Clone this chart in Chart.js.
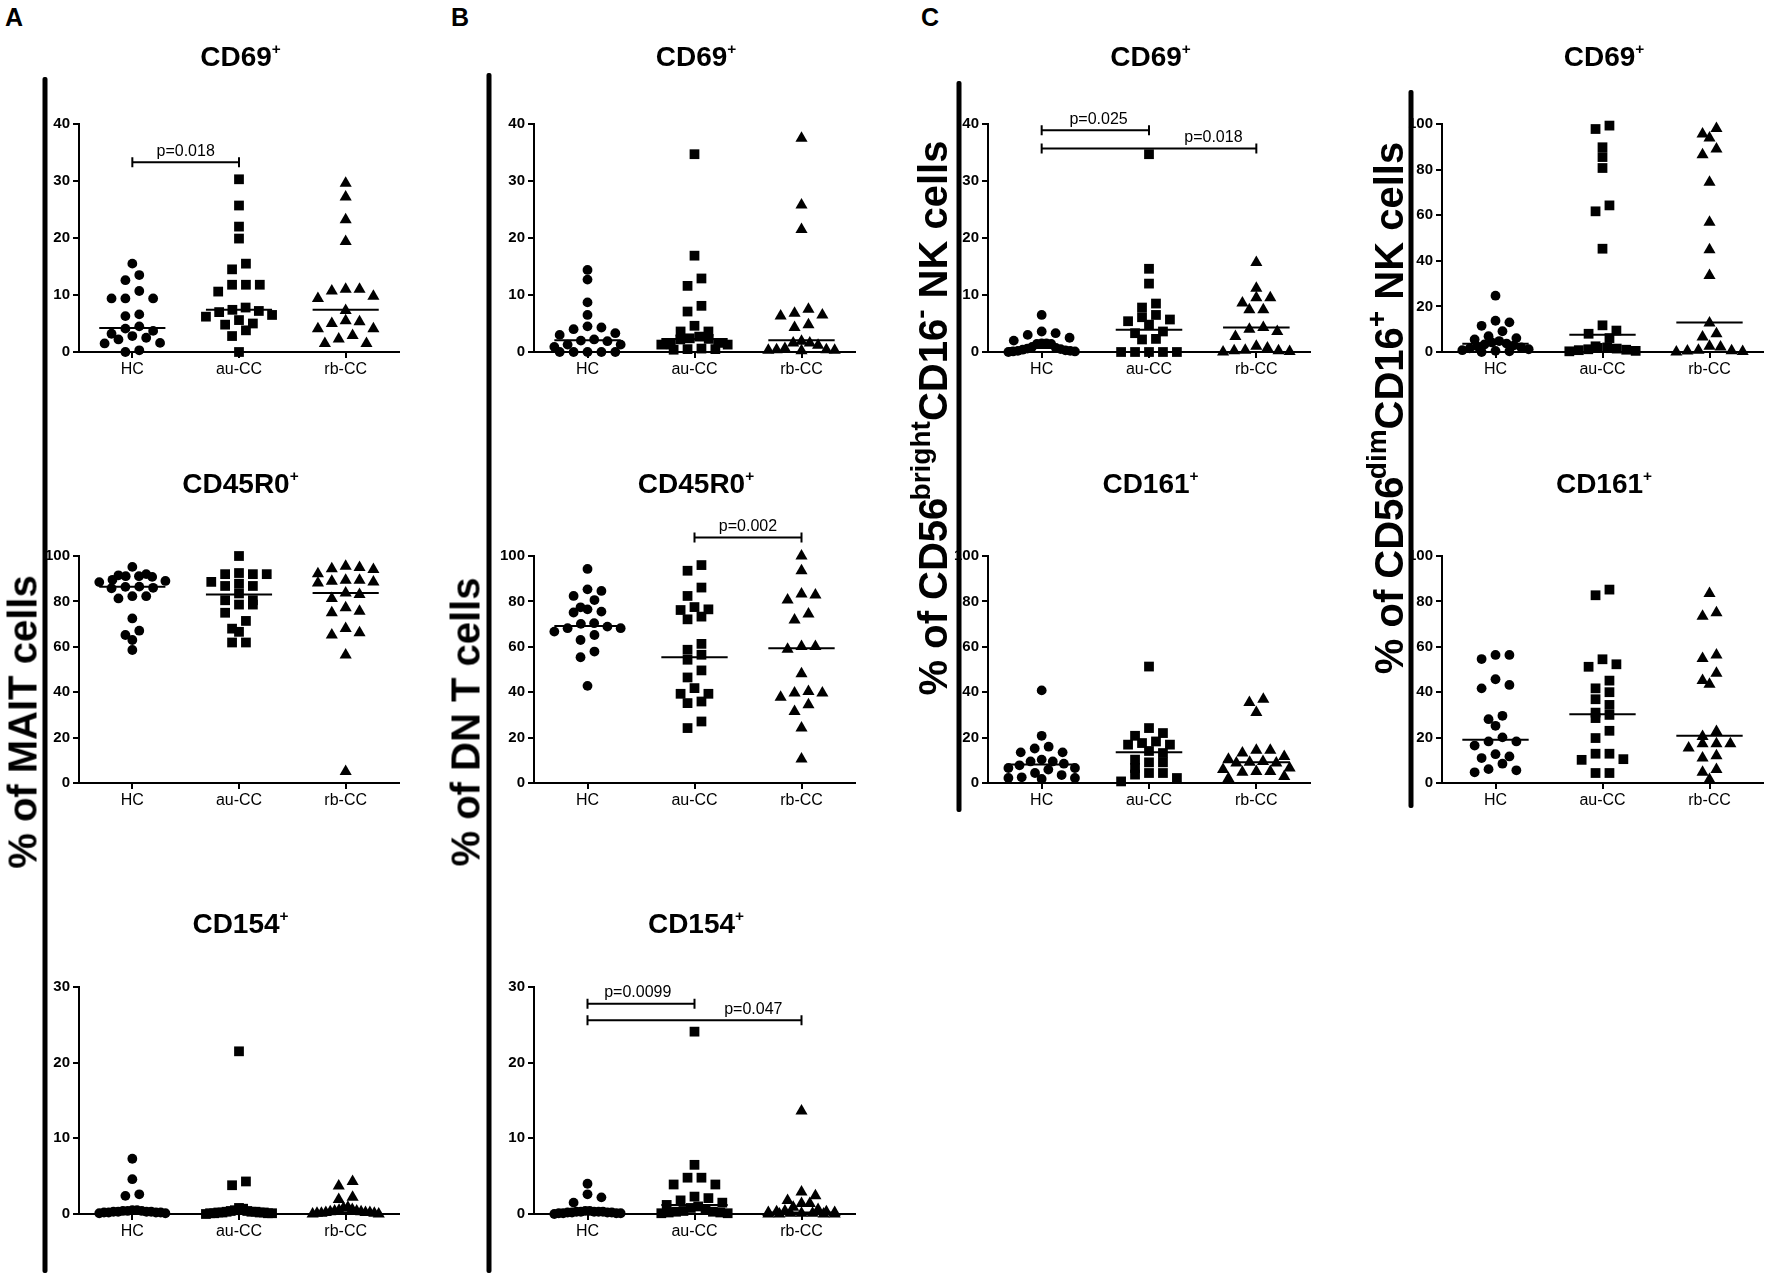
<!DOCTYPE html>
<html>
<head>
<meta charset="utf-8">
<script src="https://cdn.jsdelivr.net/npm/chart.js@4.4.1/dist/chart.umd.min.js"></script>
<style>
  html, body { margin: 0; padding: 0; background: #fff; overflow: hidden; }
  #page { position: relative; width: 1770px; height: 1277px; font-family: "Liberation Sans", Arial, sans-serif; color: #000; }
  canvas { position: absolute; }
  .title { position: absolute; transform: translate(-50%, -50%); font-weight: bold; font-size: 28px; white-space: nowrap; }
  .sup { font-size: .55em; position: relative; top: -.8em; }
  .ylab { position: absolute; transform: translate(-50%, -50%) rotate(-90deg); font-weight: bold; font-size: 40px; white-space: nowrap; }
  .ylab .hi { font-size: .7em; position: relative; top: -.6em; }
  .letter { position: absolute; transform: translate(-50%, -50%); font-weight: bold; font-size: 25px; }
  .bar { position: absolute; width: 5px; background: #000; border-radius: 2px; transform: translateX(-50%); }
</style>
</head>
<body>
<div id="page"></div>
<script>
var categories = ['HC', 'au-CC', 'rb-CC'];
var ticks40 = [0, 10, 20, 30, 40];
var ticks100 = [0, 20, 40, 60, 80, 100];
var ticks30 = [0, 10, 20, 30];

// A: % of MAIT cells
var aCd69Hc = [15.5, 13.5, 12.6, 10.7, 9.4, 9.4, 9.4, 6.6, 6.3, 4.5, 4.1, 3.7, 3.2, 2.8, 2.5, 2.2, 1.6, 1.5, 0.3, 0];
var aCd69Au = [30.3, 25.7, 22.0, 19.9, 15.5, 14.5, 11.8, 11.8, 11.8, 10.6, 7.8, 7.4, 7.2, 7.0, 6.5, 6.2, 5.6, 5.0, 4.8, 3.8, 2.8, 0];
var aCd69Rb = [29.6, 27.2, 23.2, 19.4, 11.0, 11.0, 10.7, 9.8, 9.4, 7.3, 5.5, 5.3, 5.0, 4.1, 4.1, 2.9, 2.3, 1.5, 1.5];
var aCd69Median = [4.2, 7.4, 7.4];

var aCd45Hc = [95.2, 92.0, 91.5, 91.1, 91.1, 90.8, 89.5, 89.0, 88.5, 86.5, 86.4, 86.0, 85.8, 82.3, 82.3, 81.3, 72.5, 67.1, 65.2, 63.0, 58.6];
var aCd45Au = [100, 92.5, 92, 92, 92, 88.6, 87.8, 86.8, 86.8, 83.5, 80.5, 80.5, 78.6, 78.6, 75.0, 71.4, 68.0, 66.6, 61.9, 61.9];
var aCd45Rb = [95.5, 94.9, 94.4, 94.0, 92.2, 89.3, 89.3, 88.9, 88.6, 88.1, 83.7, 83.0, 81.3, 77.2, 75.7, 75.0, 68.1, 66.2, 65.2, 56.4, 5.1];
var aCd45Median = [86.4, 83.0, 83.7];

var aCd154Hc = [7.3, 4.6, 2.6, 2.4, 0.5, 0.5, 0.4, 0.4, 0.4, 0.3, 0.3, 0.3, 0.3, 0.2, 0.2, 0.2, 0.2, 0.1, 0.1];
var aCd154Au = [21.5, 4.3, 3.8, 0.8, 0.7, 0.5, 0.4, 0.4, 0.3, 0.3, 0.3, 0.2, 0.2, 0.2, 0.2, 0.1, 0.1, 0.1, 0.1, 0];
var aCd154Rb = [4.3, 3.7, 2.2, 1.9, 0.9, 0.8, 0.6, 0.5, 0.4, 0.4, 0.3, 0.3, 0.2, 0.2, 0.2, 0.1, 0.1, 0.1, 0, 0];
var aCd154Median = [0.3, 0.3, 0.2];

// B: % of DN T cells
var bCd69Hc = [14.4, 12.7, 8.7, 6.5, 4.5, 4.3, 4.0, 3.3, 3.0, 2.2, 2.0, 1.9, 1.3, 1.3, 0.9, 0, 0, 0, 0, 0];
var bCd69Au = [34.7, 16.9, 12.9, 11.6, 8.1, 7.1, 4.6, 3.6, 3.6, 2.7, 2.4, 2.3, 2.2, 1.6, 1.3, 1.3, 1.3, 0.6, 0.5, 0.5, 0.4];
var bCd69Rb = [37.5, 25.8, 21.5, 7.5, 6.8, 6.5, 6.3, 4.8, 4.3, 1.9, 1.6, 1.6, 1.2, 0.6, 0.4, 0.4, 0.3, 0.3, 0.2];
var bCd69Median = [2.05, 2.3, 2.05];

var bCd45Hc = [94.3, 85.3, 84.6, 82.4, 80.6, 77.4, 76.5, 75.5, 75.1, 70.4, 70.1, 68.9, 68.2, 68.2, 66.7, 65.2, 63.0, 57.9, 55.4, 42.8];
var bCd45Au = [96.0, 93.5, 86.1, 82.4, 77.5, 76.5, 76.2, 73.3, 72.1, 61.3, 58.7, 56.5, 54.3, 49.6, 46.5, 41.8, 39.3, 39.3, 35.9, 35.2, 27.1, 24.2];
var bCd45Rb = [100, 93.5, 83.3, 82.8, 80.6, 74.5, 71.8, 60.1, 60.1, 58.9, 48.1, 40.3, 39.6, 39.6, 37.8, 34.5, 31.5, 24.2, 10.6];
var bCd45Median = [69.2, 55.4, 59.4];

var bCd154Hc = [4.0, 2.6, 2.2, 1.5, 0.4, 0.4, 0.3, 0.3, 0.3, 0.3, 0.3, 0.2, 0.2, 0.2, 0.2, 0.1, 0.1, 0.1, 0.1, 0];
var bCd154Au = [24.1, 6.5, 4.8, 4.8, 3.9, 3.9, 2.3, 2.1, 1.8, 1.5, 1.2, 1.0, 0.8, 0.6, 0.4, 0.3, 0.3, 0.2, 0.2, 0.1, 0.1];
var bCd154Rb = [13.6, 2.9, 2.4, 1.8, 1.4, 1.4, 0.9, 0.6, 0.4, 0.3, 0.3, 0.2, 0.2, 0.1, 0.1, 0.1, 0, 0, 0, 0];
var bCd154Median = [0.2, 1.2, 0.2];

// C: CD56bright CD16- NK cells
var cbCd69Hc = [6.5, 3.6, 3.3, 3.0, 2.5, 2.0, 1.5, 1.5, 1.4, 1.4, 0.9, 0.7, 0.6, 0.5, 0.4, 0.3, 0.2, 0.2, 0.1, 0.1, 0];
var cbCd69Au = [34.7, 14.6, 12.0, 8.5, 7.8, 6.5, 6.1, 5.7, 5.4, 4.8, 3.6, 3.3, 2.3, 2.2, 0, 0, 0, 0, 0];
var cbCd69Rb = [15.7, 11.2, 9.5, 9.5, 8.6, 7.4, 7.4, 4.3, 4.0, 3.6, 2.7, 1.0, 0.7, 0.3, 0.2, 0.2, 0.1, 0];
var cbCd69Median = [0.7, 3.9, 4.3];

var cbCd161Hc = [40.8, 20.8, 16.0, 15.2, 13.5, 13.5, 10.3, 9.5, 9.5, 8.5, 7.8, 6.6, 6.6, 5.9, 4.4, 3.5, 2.5, 2.2, 2.2, 1.8];
var cbCd161Au = [51.3, 24.2, 22.0, 20.8, 18.3, 17.6, 16.9, 16.9, 14.1, 13.2, 10.3, 9.1, 9.1, 6.6, 4.4, 4.4, 3.7, 2.2, 0.7];
var cbCd161Rb = [36.9, 35.5, 31.1, 14.4, 14.4, 13.2, 11.7, 10.5, 9.5, 9.1, 8.8, 8.8, 6.6, 5.9, 5.1, 5.1, 4.7, 2.9, 2.0];
var cbCd161Median = [8.1, 13.5, 9.1];

// C: CD56dim CD16+ NK cells
var cdCd69Hc = [24.7, 13.7, 13.0, 11.5, 9.1, 6.9, 6.1, 5.5, 4.8, 4.2, 3.7, 3.3, 2.9, 2.5, 2.0, 1.6, 1.2, 0.8, 0.5, 0.3, 0];
var cdCd69Au = [99.3, 97.8, 89.8, 85.5, 80.7, 64.3, 61.7, 45.3, 11.7, 9.4, 8.0, 6.1, 2.5, 2.0, 1.8, 1.5, 1.2, 1.0, 0.8, 0.5, 0.3];
var cdCd69Rb = [98.0, 95.6, 93.9, 89.0, 86.5, 74.4, 56.9, 44.9, 33.5, 12.7, 8.0, 6.6, 2.5, 2.2, 0.8, 0.6, 0.4, 0.2, 0];
var cdCd69Median = [3.65, 7.6, 12.9];

var cdCd161Hc = [56.4, 56.4, 54.6, 45.7, 43.2, 41.7, 29.6, 28.1, 25.2, 20.1, 18.3, 18.3, 16.5, 12.7, 11.7, 11.0, 8.5, 6.1, 5.6, 4.7];
var cdCd161Au = [85.2, 82.7, 54.5, 52.3, 51.2, 45.1, 41.7, 40.0, 36.9, 34.4, 31.0, 30.0, 28.6, 23.0, 19.8, 12.9, 12.9, 10.5, 10.2, 4.4, 4.4];
var cdCd161Rb = [83.5, 75.0, 73.5, 56.4, 54.9, 48.3, 45.1, 43.5, 22.7, 20.5, 17.3, 17.3, 17.3, 15.4, 12.0, 11.0, 5.9, 4.7, 1.5];
var cdCd161Median = [19.0, 30.3, 20.8];

// page geometry: [y axis x, x axis end] per column, [top, zero line, title y] per row
var columns = { A: [79, 402], B: [534, 858], C1: [988, 1313], C2: [1442, 1766] };
var rows = { 1: [124, 352, 57], 2: [556, 783, 484], 3: [987, 1214, 924] };

var panels = [
  { col: 'A', row: 1, title: 'CD69', yMax: 40, ticks: ticks40, groups: [aCd69Hc, aCd69Au, aCd69Rb], medians: aCd69Median,
    brackets: [{ from: 1, to: 2, y: 33.3, text: 'p=0.018', at: 1.5 }] },
  { col: 'A', row: 2, title: 'CD45R0', yMax: 100, ticks: ticks100, groups: [aCd45Hc, aCd45Au, aCd45Rb], medians: aCd45Median, brackets: [] },
  { col: 'A', row: 3, title: 'CD154', yMax: 30, ticks: ticks30, groups: [aCd154Hc, aCd154Au, aCd154Rb], medians: aCd154Median, brackets: [] },
  { col: 'B', row: 1, title: 'CD69', yMax: 40, ticks: ticks40, groups: [bCd69Hc, bCd69Au, bCd69Rb], medians: bCd69Median, brackets: [] },
  { col: 'B', row: 2, title: 'CD45R0', yMax: 100, ticks: ticks100, groups: [bCd45Hc, bCd45Au, bCd45Rb], medians: bCd45Median,
    brackets: [{ from: 2, to: 3, y: 108.2, text: 'p=0.002', at: 2.5 }] },
  { col: 'B', row: 3, title: 'CD154', yMax: 30, ticks: ticks30, groups: [bCd154Hc, bCd154Au, bCd154Rb], medians: bCd154Median,
    brackets: [{ from: 1, to: 2, y: 27.8, text: 'p=0.0099', at: 1.47 }, { from: 1, to: 3, y: 25.6, text: 'p=0.047', at: 2.55 }] },
  { col: 'C1', row: 1, title: 'CD69', yMax: 40, ticks: ticks40, groups: [cbCd69Hc, cbCd69Au, cbCd69Rb], medians: cbCd69Median,
    brackets: [{ from: 1, to: 2, y: 38.9, text: 'p=0.025', at: 1.53 }, { from: 1, to: 3, y: 35.7, text: 'p=0.018', at: 2.6 }] },
  { col: 'C1', row: 2, title: 'CD161', yMax: 100, ticks: ticks100, groups: [cbCd161Hc, cbCd161Au, cbCd161Rb], medians: cbCd161Median, brackets: [] },
  { col: 'C2', row: 1, title: 'CD69', yMax: 100, ticks: ticks100, groups: [cdCd69Hc, cdCd69Au, cdCd69Rb], medians: cdCd69Median, brackets: [] },
  { col: 'C2', row: 2, title: 'CD161', yMax: 100, ticks: ticks100, groups: [cdCd161Hc, cdCd161Au, cdCd161Rb], medians: cdCd161Median, brackets: [] }
];

var markerStyles = ['circle', 'rect', 'triangle'];
var markerRadius = [4.9, 6.9, 7.0];
var PAD_TOP = 70, PAD_RIGHT = 4, Y_AXIS_W = 60, X_AXIS_H = 40;
var FONT = '"Liberation Sans", Arial, sans-serif';

Chart.defaults.font.family = FONT;
Chart.defaults.color = '#000';

// column-scatter spread: values close in y share a row, placed outward from the centre
function swarm(values, yMax, center) {
  var bin = yMax * 0.04;
  var sorted = values.slice().sort(function (a, b) { return b - a; });
  var bands = [], cur = null;
  sorted.forEach(function (v) {
    if (!cur || cur.start - v > bin) { cur = { start: v, vals: [] }; bands.push(cur); }
    cur.vals.push(v);
  });
  var pts = [];
  bands.forEach(function (b) {
    var n = b.vals.length;
    var step = n > 1 ? Math.min(0.13, 0.62 / (n - 1)) : 0;
    var slots = [];
    for (var k = 0; k < n; k++) slots.push((k - (n - 1) / 2) * step);
    slots.sort(function (a, c) { return Math.abs(a) - Math.abs(c) || c - a; });
    b.vals.forEach(function (v, k) { pts.push({ x: center + slots[k], y: v }); });
  });
  return pts;
}

function makePlugins(p) {
  var medians = {
    id: 'medians',
    afterDatasetsDraw: function (chart) {
      var ctx = chart.ctx, x = chart.scales.x, y = chart.scales.y;
      ctx.save();
      ctx.strokeStyle = '#000';
      ctx.lineWidth = 2;
      p.medians.forEach(function (m, i) {
        var py = y.getPixelForValue(m);
        ctx.beginPath();
        ctx.moveTo(x.getPixelForValue(i + 1 - 0.31), py);
        ctx.lineTo(x.getPixelForValue(i + 1 + 0.31), py);
        ctx.stroke();
      });
      ctx.restore();
    }
  };
  var brackets = {
    id: 'brackets',
    afterDraw: function (chart) {
      var ctx = chart.ctx, x = chart.scales.x, y = chart.scales.y;
      ctx.save();
      ctx.strokeStyle = '#000';
      ctx.fillStyle = '#000';
      ctx.lineWidth = 2;
      ctx.font = '16px ' + FONT;
      ctx.textAlign = 'center';
      ctx.textBaseline = 'bottom';
      p.brackets.forEach(function (b) {
        var x1 = x.getPixelForValue(b.from), x2 = x.getPixelForValue(b.to), py = y.getPixelForValue(b.y);
        ctx.beginPath();
        ctx.moveTo(x1, py); ctx.lineTo(x2, py);
        ctx.moveTo(x1, py - 5); ctx.lineTo(x1, py + 5);
        ctx.moveTo(x2, py - 5); ctx.lineTo(x2, py + 5);
        ctx.stroke();
        ctx.fillText(b.text, x.getPixelForValue(b.at), py - 3);
      });
      ctx.restore();
    }
  };
  return [medians, brackets];
}

var page = document.getElementById('page');

function addDiv(cls, html, left, top, extra) {
  var d = document.createElement('div');
  d.className = cls;
  d.innerHTML = html;
  d.style.left = left + 'px';
  d.style.top = top + 'px';
  if (extra) Object.keys(extra).forEach(function (k) { d.style[k] = extra[k]; });
  page.appendChild(d);
  return d;
}

var axisGrid = { display: true, drawOnChartArea: false, drawTicks: true, tickLength: 6, color: '#000', lineWidth: 2 };
var axisBorder = { display: true, color: '#000', width: 2 };

panels.forEach(function (p) {
  var c = columns[p.col], r = rows[p.row];
  var w = c[1] - c[0] + Y_AXIS_W + PAD_RIGHT;
  var h = r[1] - r[0] + PAD_TOP + X_AXIS_H;
  var canvas = document.createElement('canvas');
  canvas.width = w;
  canvas.height = h;
  canvas.style.left = (c[0] - Y_AXIS_W) + 'px';
  canvas.style.top = (r[0] - PAD_TOP) + 'px';
  canvas.style.width = w + 'px';
  canvas.style.height = h + 'px';
  page.appendChild(canvas);

  new Chart(canvas, {
    type: 'scatter',
    data: {
      datasets: p.groups.map(function (g, i) {
        return {
          label: categories[i],
          data: swarm(g, p.yMax, i + 1),
          pointStyle: markerStyles[i],
          pointRadius: markerRadius[i],
          pointHoverRadius: markerRadius[i],
          backgroundColor: '#000',
          borderColor: '#000',
          borderWidth: 0,
          clip: false
        };
      })
    },
    options: {
      responsive: false,
      animation: false,
      events: [],
      layout: { padding: { top: PAD_TOP, right: PAD_RIGHT, left: 0, bottom: 0 } },
      scales: {
        x: {
          type: 'linear', min: 0.5, max: 3.5,
          afterBuildTicks: function (s) { s.ticks = [1, 2, 3].map(function (v) { return { value: v }; }); },
          afterFit: function (s) { s.height = X_AXIS_H; },
          ticks: { callback: function (v) { return categories[v - 1]; }, font: { size: 16 }, color: '#000', padding: 2, maxRotation: 0, autoSkip: false },
          grid: axisGrid,
          border: axisBorder
        },
        y: {
          min: 0, max: p.yMax,
          afterBuildTicks: function (s) { s.ticks = p.ticks.map(function (v) { return { value: v }; }); },
          afterFit: function (s) { s.width = Y_AXIS_W; },
          ticks: { font: { size: 15, weight: 'bold' }, color: '#000', padding: 3 },
          grid: axisGrid,
          border: axisBorder
        }
      },
      plugins: { legend: { display: false }, tooltip: { enabled: false } }
    },
    plugins: makePlugins(p)
  });

  addDiv('title', p.title + '<span class="sup">+</span>', (c[0] + c[1]) / 2, r[2]);
});

// panel frames, letters and axis titles
addDiv('bar', '', 45, 77, { height: '1196px' });
addDiv('bar', '', 489, 73, { height: '1200px' });
addDiv('bar', '', 959, 81, { height: '731px' });
addDiv('bar', '', 1411, 90, { height: '718px' });

addDiv('letter', 'A', 14, 17);
addDiv('letter', 'B', 460, 17);
addDiv('letter', 'C', 930, 17);

addDiv('ylab', '% of MAIT cells', 23, 722);
addDiv('ylab', '% of DN T cells', 466, 722);
addDiv('ylab', '% of CD56<span class="hi" style="margin-left:-.1em">bright</span>CD16<span class="hi">-</span> NK cells', 933, 418);
addDiv('ylab', '% of CD56<span class="hi" style="margin-left:-.1em">dim</span>CD16<span class="hi">+</span> NK cells', 1389, 408);
</script>
</body>
</html>
